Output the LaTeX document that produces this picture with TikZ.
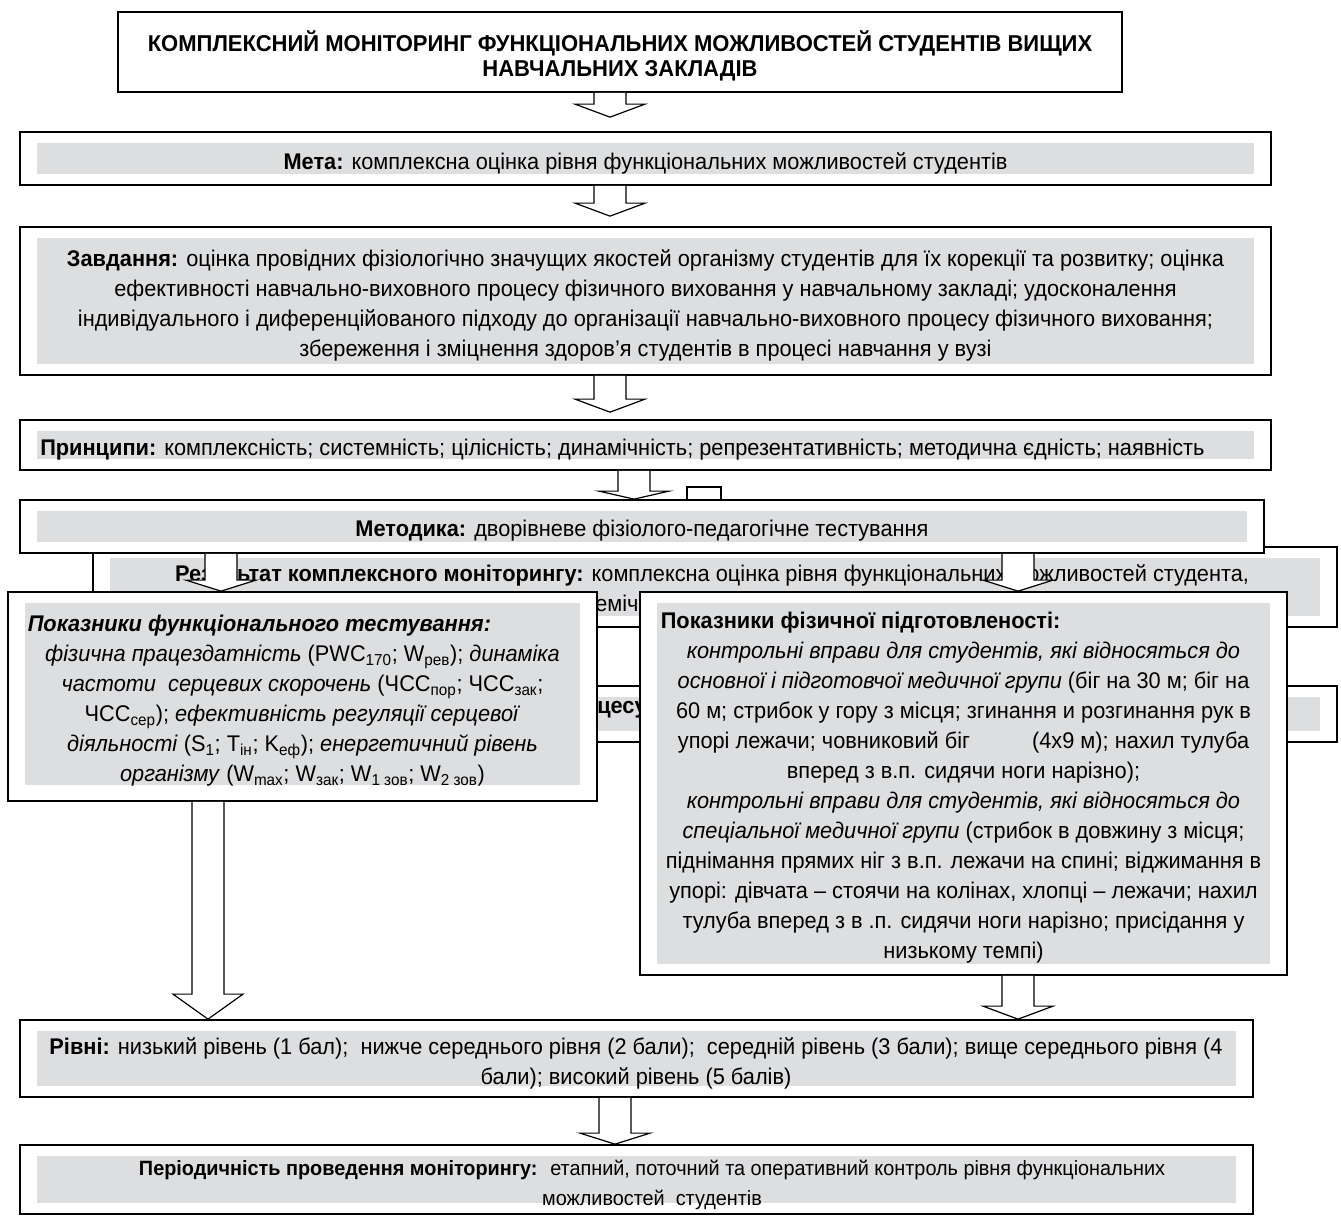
\documentclass[tikz,border=0pt]{standalone}
\usepackage{fontspec}
\setmainfont{Liberation Sans}[FakeStretch=0.96]
\usetikzlibrary{calc,fit}
\definecolor{boxgray}{RGB}{221,222,224}
\tikzset{
  panel/.style={draw, line width=1.3pt, fill=white, inner sep=0pt,
    path picture={\fill[boxgray] ([shift={(17,11)}]path picture bounding box.north west)
      rectangle ([shift={(-17,-#1)}]path picture bounding box.south east);}},
  panel/.default=11,
  titlepanel/.style={draw, line width=1.3pt, fill=white, inner sep=0pt},
  arrowbody/.style={draw, line width=0.9pt, fill=white, line join=miter},
  bodytext/.style={inner sep=0pt, font=\fontsize{17}{22.5}\selectfont},
  paneltext/.style={bodytext, align=center, yshift=-3.4pt},
  titletext/.style={inner sep=0pt, align=center, yshift=-2.6pt, font=\fontsize{17.2}{18.75}\selectfont\bfseries}
}
\newcommand{\fatarrow}[5][13]{%
  \coordinate (fa) at (#2,0);
  \path (fa |- #3.south) coordinate (fatop) ($(fa |- #4.north)+(0,-#5)$) coordinate (fatip);
  \draw[arrowbody] ($(fatop)+(-16,0)$) -- ($(fatip)+(-16,-#1)$) -- ($(fatip)+(-35,-#1)$)
    -- (fatip) -- ($(fatip)+(35,-#1)$) -- ($(fatip)+(16,-#1)$) -- ($(fatop)+(16,0)$);
}
\begin{document}
\begin{tikzpicture}[x=0.75pt,y=-0.75pt]
	\useasboundingbox (0,0) rectangle (1341,1216);

	\node[titlepanel, fit={(118,12) (1122,92)}] (title) {};
	\node[titletext] (titletxt) at (title.center) {КОМПЛЕКСНИЙ МОНІТОРИНГ ФУНКЦІОНАЛЬНИХ МОЖЛИВОСТЕЙ СТУДЕНТІВ ВИЩИХ\\ НАВЧАЛЬНИХ ЗАКЛАДІВ};

	\node[panel, fit={(20,132) (1271,185)}] (meta) {};
	\node[paneltext] (metatxt) at (meta.center) {\textbf{Мета:} комплексна оцінка рівня функціональних можливостей студентів};

	\node[panel, fit={(20,227) (1271,375)}] (tasks) {};
	\node[paneltext] (taskstxt) at (tasks.center) {\textbf{Завдання:} оцінка провідних фізіологічно значущих якостей організму студентів для їх корекції та розвитку; оцінка\\
	ефективності навчально-виховного процесу фізичного виховання у навчальному закладі; удосконалення\\
	індивідуального і диференційованого підходу до організації навчально-виховного процесу фізичного виховання;\\
	збереження і зміцнення здоров’я студентів в процесі навчання у вузі};

	\node[panel, fit={(20,420) (1271,470)}] (princ) {};
	\node[paneltext, anchor=west] (princtxt) at (40,445) {\textbf{Принципи:} комплексність; системність; цілісність; динамічність; репрезентативність; методична єдність; наявність};

	\fatarrow{610}{title}{meta}{14}
	\fatarrow{610}{meta}{tasks}{10}
	\fatarrow{610}{tasks}{princ}{7}
	\draw[arrowbody] (687,487) rectangle (721,505);

	\node[panel, fit={(93,547) (1337,627)}] (result) {};
	\node[bodytext] (resulttxt) at (712,575) {\textbf{Результат комплексного моніторингу:} комплексна оцінка рівня функціональних можливостей студента,};
	\node[bodytext, anchor=west] (resultfrag) at (595,603) {емічн};
	\node[panel, fit={(93,686) (1337,742)}] (process) {};
	\node[bodytext, anchor=west, font=\fontsize{17}{22.5}\selectfont\bfseries] (processfrag) at (597,710) {цесу};

	\node[panel, fit={(20,500) (1264,553)}] (method) {};
	\node[paneltext] (methodtxt) at (method.center) {\textbf{Методика:} дворівневе фізіолого-педагогічне тестування};
	\fatarrow[8]{634}{princ}{method}{0}

	\node[panel=16, fit={(8,592) (597,801)}] (func) {};
	\node[paneltext] (functxt) at (func.center) {\makebox[412pt][l]{\textbf{\textit{Показники функціонального тестування:}}}\\
	\textit{фізична працездатність} (PWC\textsubscript{170}; W\textsubscript{рев}); \textit{динаміка}\\
	\textit{частоти \ серцевих скорочень} (ЧСС\textsubscript{пор}; ЧСС\textsubscript{зак};\\
	ЧСС\textsubscript{сер}); \textit{ефективність регуляції серцевої}\\
	\textit{діяльності} (S\textsubscript{1}; T\textsubscript{ін}; K\textsubscript{еф}); \textit{енергетичний рівень}\\
	\textit{організму} (W\textsubscript{max}; W\textsubscript{зак}; W\textsubscript{1 зов}; W\textsubscript{2 зов})};

	\node[panel, fit={(640,592) (1287,975)}] (phys) {};
	\node[paneltext] (phystxt) at (phys.center) {\makebox[454pt][l]{\textbf{Показники фізичної підготовленості:}}\\
	\textit{контрольні вправи для студентів, які відносяться до}\\
	\textit{основної і підготовчої медичної групи} (біг на 30 м; біг на\\
	60 м; стрибок у гору з місця; згинання и розгинання рук в\\
	упорі лежачи; човниковий біг \hspace{2.2em} (4х9 м); нахил тулуба\\
	вперед з в.п. сидячи ноги нарізно);\\
	\textit{контрольні вправи для студентів, які відносяться до}\\
	\textit{спеціальної медичної групи} (стрибок в довжину з місця;\\
	піднімання прямих ніг з в.п. лежачи на спині; віджимання в\\
	упорі: дівчата – стоячи на колінах, хлопці – лежачи; нахил\\
	тулуба вперед з в .п. сидячи ноги нарізно; присідання у\\
	низькому темпі)};

	\fatarrow[11]{221}{method}{func}{0}
	\fatarrow[11]{1018}{method}{phys}{0}

	\node[panel, fit={(20,1020) (1253,1097)}] (levels) {};
	\node[paneltext] (levelstxt) at (636,1059) {\textbf{Рівні:} низький рівень (1 бал); \ нижче середнього рівня (2 бали); \ середній рівень (3 бали); вище середнього рівня (4\\
	бали); високий рівень (5 балів)};

	\node[panel, fit={(20,1145) (1253,1214)}] (period) {};
	\node[paneltext, font=\fontsize{15.5}{22.5}\selectfont] (periodtxt) at (652,1180) {\textbf{Періодичність проведення моніторингу:} \ етапний, поточний та оперативний контроль рівня функціональних\\
	можливостей \ студентів};

	\fatarrow[25]{208}{func}{levels}{0}
	\fatarrow{1018}{phys}{levels}{0}
	\fatarrow[11]{615}{levels}{period}{0}
\end{tikzpicture}
\end{document}
